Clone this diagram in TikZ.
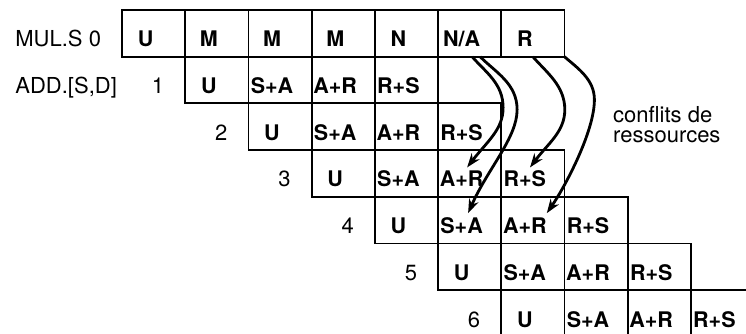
\documentclass[tikz,border=0pt]{standalone}
\usepackage{fontspec}
\setmainfont{TeX Gyre Heros}
\usetikzlibrary{arrows.meta, positioning}

\begin{document}
\begin{tikzpicture}[
    x=1pt, y=-1pt,
    node distance=0pt,
    every node/.style={font=\fontsize{22}{22}\selectfont},
    cell/.style={rectangle, draw=black, line width=1.8pt, minimum width=63.2pt, minimum height=46.7pt, inner sep=0pt, outer sep=0pt, text height=27pt, text depth=0pt, font=\fontsize{21.5}{21.5}\selectfont\bfseries, execute at end node={\kern16pt}},
    rowlbl/.style={inner sep=0pt, outer sep=0pt, text height=27pt, text depth=0pt},
    note/.style={align=left, inner sep=0pt, font=\fontsize{22}{20.5}\selectfont},
    conflict/.style={->, >={Stealth[length=14pt, width=10pt]}, line width=2.8pt}
]
\fill[white] (0,0) rectangle (746,334);
\useasboundingbox (0,0) rectangle (746,334);
\clip (0,0) rectangle (746,334);

% ============== MUL.S ==============
\node[cell] (c00) at (153.6,33.35) {U};
\node[cell, right=of c00] (c01) {M};
\node[cell, right=of c01] (c02) {M};
\node[cell, right=of c02] (c03) {M};
\node[cell, right=of c03] (c04) {N};
\node[cell, right=of c04] (c05) {N/A};
\node[cell, right=of c05] (c06) {R};

% ============== ADD.[S,D] ==============
\node[cell, below=of c01] (c11) {U};
\node[cell, right=of c11] (c12) {S+A};
\node[cell, right=of c12] (c13) {A+R};
\node[cell, right=of c13] (c14) {R+S};

\node[cell, below=of c12] (c22) {U};
\node[cell, right=of c22] (c23) {S+A};
\node[cell, right=of c23] (c24) {A+R};
\node[cell, right=of c24] (c25) {R+S};

\node[cell, below=of c23] (c33) {U};
\node[cell, right=of c33] (c34) {S+A};
\node[cell, right=of c34] (c35) {A+R};
\node[cell, right=of c35] (c36) {R+S};

\node[cell, below=of c34] (c44) {U};
\node[cell, right=of c44] (c45) {S+A};
\node[cell, right=of c45] (c46) {A+R};
\node[cell, right=of c46] (c47) {R+S};

\node[cell, below=of c45] (c55) {U};
\node[cell, right=of c55] (c56) {S+A};
\node[cell, right=of c56] (c57) {A+R};
\node[cell, right=of c57] (c58) {R+S};

\node[cell, below=of c56] (c66) {U};
\node[cell, right=of c66] (c67) {S+A};
\node[cell, right=of c67] (c68) {A+R};
\node[cell, right=of c68] (c69) {R+S};

% ============== Etiquettes ==============
\node[rowlbl, left=21pt of c00] (mul) {MUL.S 0};
\node[rowlbl, left=21pt of c11] (n1) {1};
\node[rowlbl, anchor=west] (add) at (mul.west |- n1.west) {ADD.[S,D]};
\node[rowlbl, left=21pt of c22] (n2) {2};
\node[rowlbl, left=21pt of c33] (n3) {3};
\node[rowlbl, left=21pt of c44] (n4) {4};
\node[rowlbl, left=21pt of c55] (n5) {5};
\node[rowlbl, left=21pt of c66] (n6) {6};

\node[note, anchor=north west] (conf) at (613,106) {conflits de\\ressources};

% ============== Conflits ==============
\draw[conflict] ([xshift=2.5pt]c05.south) .. controls +(14,16) and +(0,-24) .. ++(31,51)
    .. controls +(0,22) and +(20,-26) .. ([xshift=-2.5pt,yshift=6pt]c35.center);
\draw[conflict] ([xshift=10.5pt]c05.south) .. controls +(16,16) and +(0,-26) .. ++(37,53)
    .. controls +(0,28) and +(20,-45) .. ([xshift=-1.5pt,yshift=7pt]c45.center);
\draw[conflict] (c06.south) .. controls +(14,16) and +(0,-24) .. ++(32,53)
    .. controls +(0,22) and +(18,-24) .. ([xshift=-2.8pt,yshift=6pt]c36.center);
\draw[conflict] (c06.south east) .. controls +(14,12) and +(0,-20) .. ++(30,43)
    .. controls +(0,32) and +(18,-26) .. ([xshift=14pt,yshift=7pt]c46.center);
\end{tikzpicture}
\end{document}
